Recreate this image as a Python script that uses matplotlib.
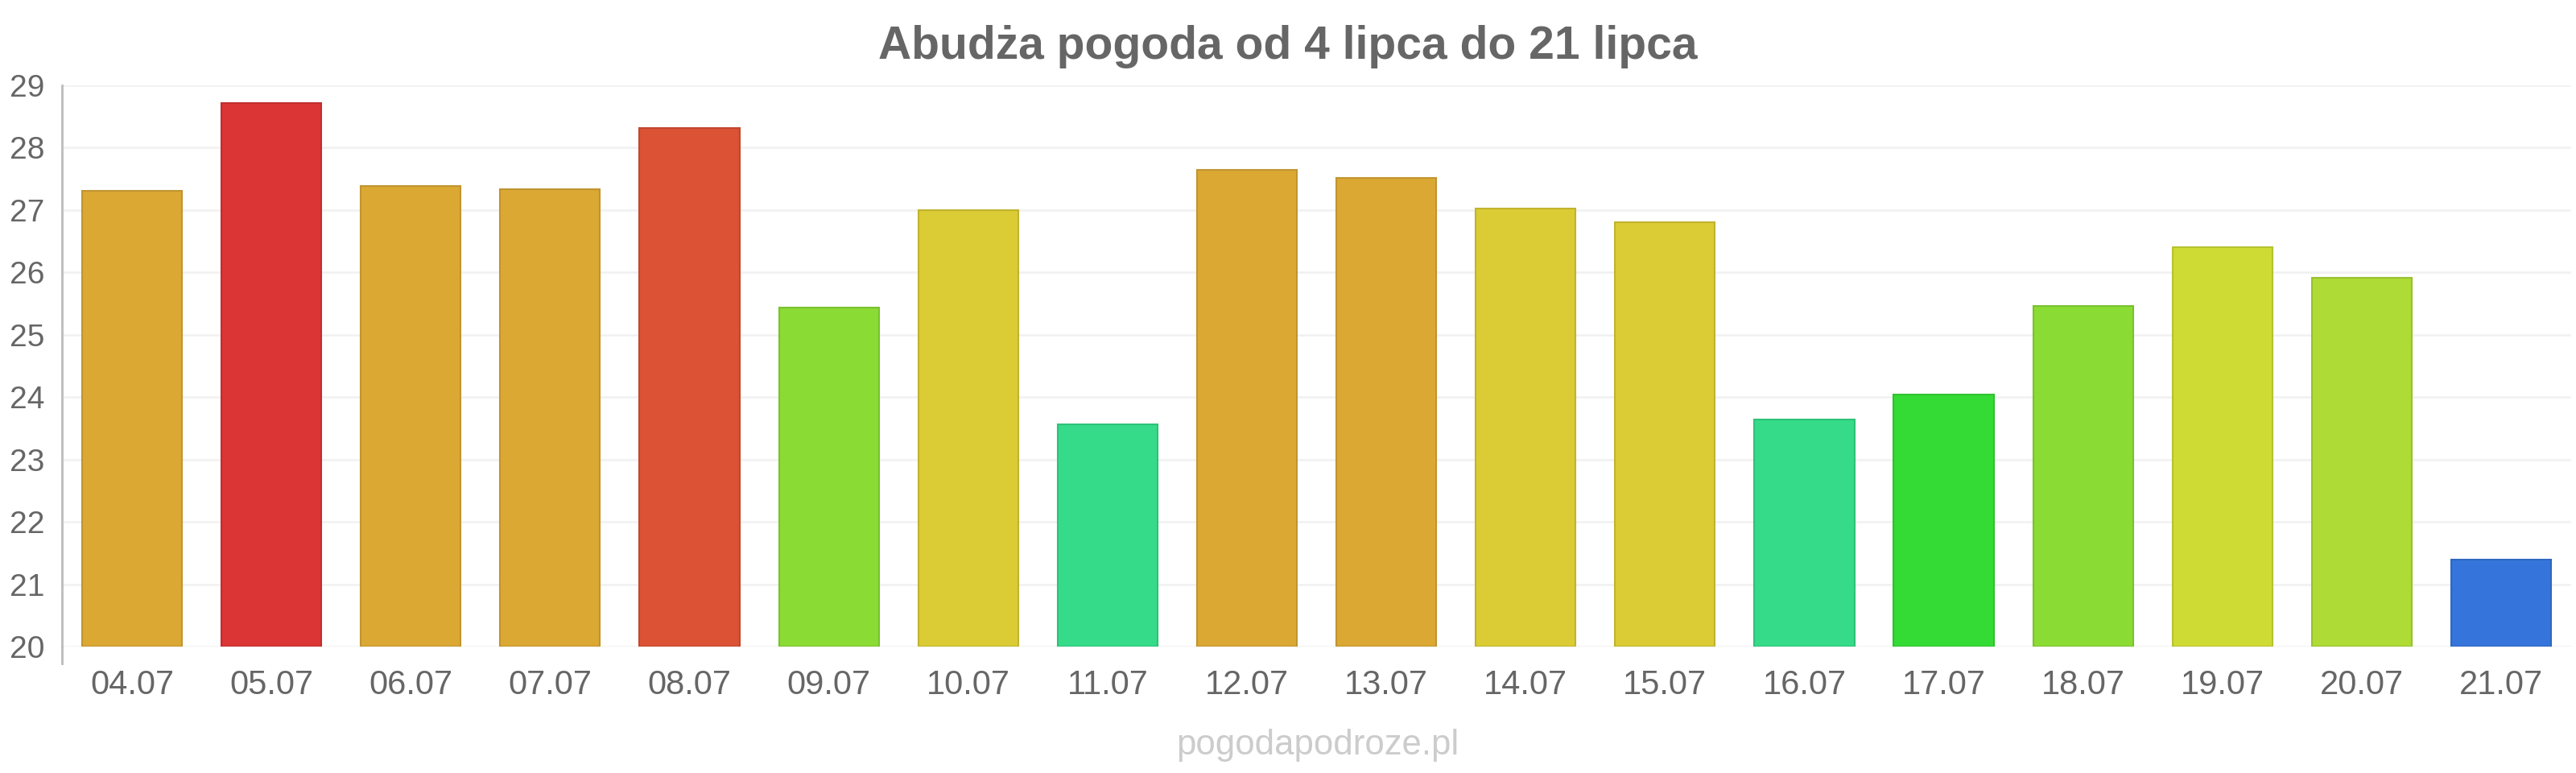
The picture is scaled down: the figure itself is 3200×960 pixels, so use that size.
import matplotlib
matplotlib.use("Agg")
import matplotlib.pyplot as plt
from matplotlib.lines import Line2D

plt.rcParams['font.family'] = ['Liberation Sans', 'DejaVu Sans']

dates = ["04.07", "05.07", "06.07", "07.07", "08.07", "09.07", "10.07", "11.07", "12.07",
         "13.07", "14.07", "15.07", "16.07", "17.07", "18.07", "19.07", "20.07", "21.07"]
temps = [27.31, 28.71, 27.39, 27.34, 28.31, 25.44, 27.0, 23.56, 27.65,
         27.52, 27.02, 26.81, 23.64, 24.04, 25.46, 26.41, 25.91, 21.40]
colors = ["#DBA834", "#DB3535", "#DBA834", "#DBA834", "#DB5235", "#8BDB35", "#DBCB35", "#35DB89", "#DBA834",
          "#DBA834", "#DBCB35", "#DBCB35", "#35DB89", "#35DB35", "#8BDB35", "#CFDB35", "#AEDB35", "#3575DB"]
yticks = [20, 21, 22, 23, 24, 25, 26, 27, 28, 29]
title = "Abudża pogoda od 4 lipca do 21 lipca"
watermark = "pogodapodroze.pl"


def darker(c, f=0.88):
    c = c.lstrip('#')
    r, g, b = (int(c[i:i + 2], 16) for i in (0, 2, 4))
    return (r / 255 * f, g / 255 * f, b / 255 * f)


fig = plt.figure(figsize=(32, 9.6), dpi=100)
ax = fig.add_axes([0.0242, 0.1635, 0.9738, 0.7261])

x = list(range(len(dates)))
ax.bar(x, [t - 20 for t in temps], bottom=20, width=0.717, color=colors,
       edgecolor=[darker(c) for c in colors], linewidth=1.5, zorder=3)

ax.set_xlim(-0.5, len(dates) - 0.5)
ax.set_ylim(20, 29)
ax.set_yticks(yticks)
ax.set_yticklabels([str(v) for v in yticks])
ax.set_xticks(x)
ax.set_xticklabels(dates)
ax.tick_params(axis='y', length=0, pad=16, labelsize=28, labelcolor='#666666')
ax.tick_params(axis='x', length=0, pad=20, labelsize=30, labelcolor='#666666')
ax.grid(axis='y', color='#f2f2f2', linewidth=2, zorder=0)
for s in ['top', 'right', 'bottom']:
    ax.spines[s].set_visible(False)
ax.spines['left'].set_color('#bbbbbb')
ax.spines['left'].set_linewidth(2)
ax.add_line(Line2D([0, 0], [0, -0.03], transform=ax.transAxes, color='#bbbbbb',
                   linewidth=2, clip_on=False))

fig.text(0.5, 0.940, title, ha='center', va='center', fontsize=41,
         fontweight='bold', color='#666666')
fig.text(0.5115, 0.036, watermark, ha='center', va='center', fontsize=31.5,
         color='#cccccc')

fig.savefig("out.png", dpi=100, facecolor='white')
